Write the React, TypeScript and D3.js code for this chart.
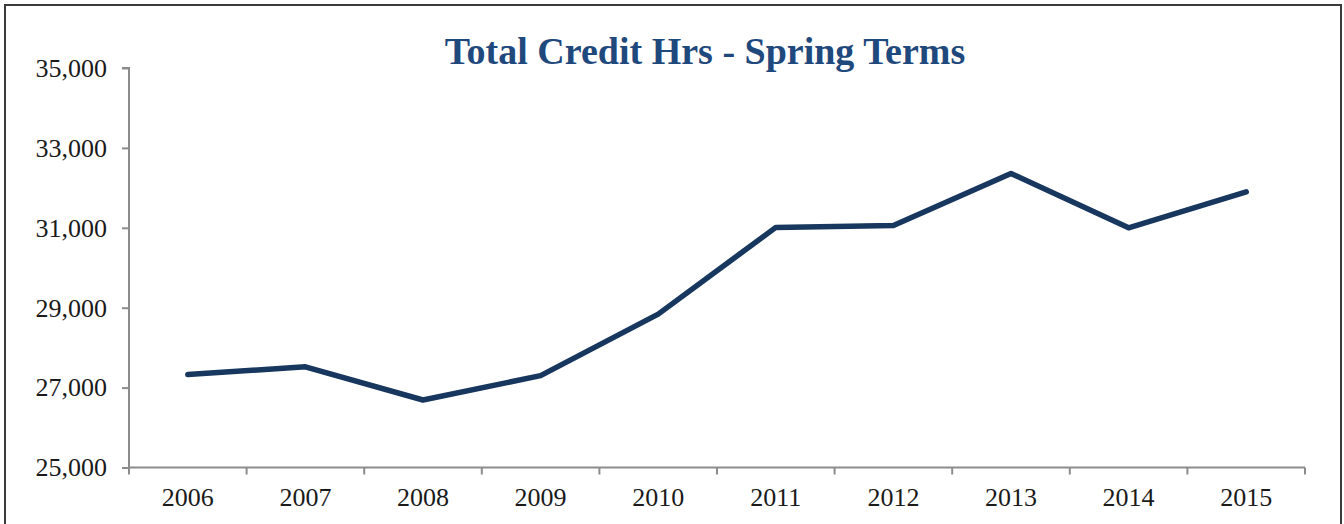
import React, { useEffect, useRef } from 'react';
import * as d3 from 'd3';

const years = ['2006', '2007', '2008', '2009', '2010', '2011', '2012', '2013', '2014', '2015'];
const creditHours = [27325, 27520, 26690, 27300, 28840, 31010, 31060, 32360, 31000, 31900];
const yTicks = [25000, 27000, 29000, 31000, 33000, 35000];

const WIDTH = 1344;
const HEIGHT = 524;

const App: React.FC = () => {
  const svgRef = useRef<SVGSVGElement>(null);

  useEffect(() => {
    if (!svgRef.current) return;
    const svg = d3.select(svgRef.current);
    svg.selectAll('*').remove();

    const plot = { left: 129, right: 1305, top: 68, bottom: 467.5 };
    const axisColor = '#8c8c8c';
    const fontFamily = '"Liberation Serif", "Times New Roman", serif';

    // outer frame
    svg.append('rect')
      .attr('x', 5)
      .attr('y', 5)
      .attr('width', 1336)
      .attr('height', 540)
      .attr('fill', '#fff')
      .attr('stroke', '#3a3a3a')
      .attr('stroke-width', 2);

    const x = d3.scaleBand<string>()
      .domain(years)
      .range([plot.left, plot.right]);

    const y = d3.scaleLinear()
      .domain([25000, 35000])
      .range([plot.bottom, plot.top]);

    // y axis
    const yAxis = svg.append('g')
      .attr('transform', `translate(${plot.left},0)`)
      .call(d3.axisLeft(y).tickValues(yTicks).tickSize(7).tickPadding(15)
        .tickFormat(d => d3.format(',')(d as number)));
    yAxis.select('.domain')
      .attr('stroke', axisColor)
      .attr('stroke-width', 2)
      .attr('d', `M-7,${plot.top}H0V${plot.bottom + 6}`);
    yAxis.selectAll('line').attr('stroke', axisColor).attr('stroke-width', 2);
    yAxis.selectAll('text')
      .attr('fill', '#1a1a1a')
      .style('font-family', fontFamily)
      .style('font-size', '26px');

    // x axis: ticks on category boundaries
    const xAxis = svg.append('g');
    xAxis.append('line')
      .attr('x1', plot.left)
      .attr('x2', plot.right)
      .attr('y1', plot.bottom)
      .attr('y2', plot.bottom)
      .attr('stroke', axisColor)
      .attr('stroke-width', 2);
    const bounds = years.map(d => x(d)!).concat([plot.right]);
    xAxis.selectAll('.xtick')
      .data(bounds)
      .enter().append('line')
      .attr('x1', d => d)
      .attr('x2', d => d)
      .attr('y1', plot.bottom)
      .attr('y2', plot.bottom + 7)
      .attr('stroke', axisColor)
      .attr('stroke-width', 2);
    xAxis.selectAll('.xlabel')
      .data(years)
      .enter().append('text')
      .attr('x', d => x(d)! + x.bandwidth() / 2)
      .attr('y', 506)
      .attr('text-anchor', 'middle')
      .attr('fill', '#1a1a1a')
      .style('font-family', fontFamily)
      .style('font-size', '26px')
      .text(d => d);

    // series line
    const line = d3.line<number>()
      .x((_, i) => x(years[i])! + x.bandwidth() / 2)
      .y(d => y(d));

    svg.append('path')
      .datum(creditHours)
      .attr('d', line)
      .attr('fill', 'none')
      .attr('stroke', '#17375e')
      .attr('stroke-width', 5.5)
      .attr('stroke-linejoin', 'round')
      .attr('stroke-linecap', 'round');

    // title
    svg.append('text')
      .attr('x', 705)
      .attr('y', 64)
      .attr('text-anchor', 'middle')
      .attr('fill', '#1f497d')
      .style('font-family', fontFamily)
      .style('font-size', '38px')
      .style('font-weight', 'bold')
      .text('Total Credit Hrs - Spring Terms');
  }, []);

  return (
    <svg
      ref={svgRef}
      width={WIDTH}
      height={HEIGHT}
      style={{ position: 'absolute', left: 0, top: 0, background: '#fff' }}
    />
  );
};

export default App;
